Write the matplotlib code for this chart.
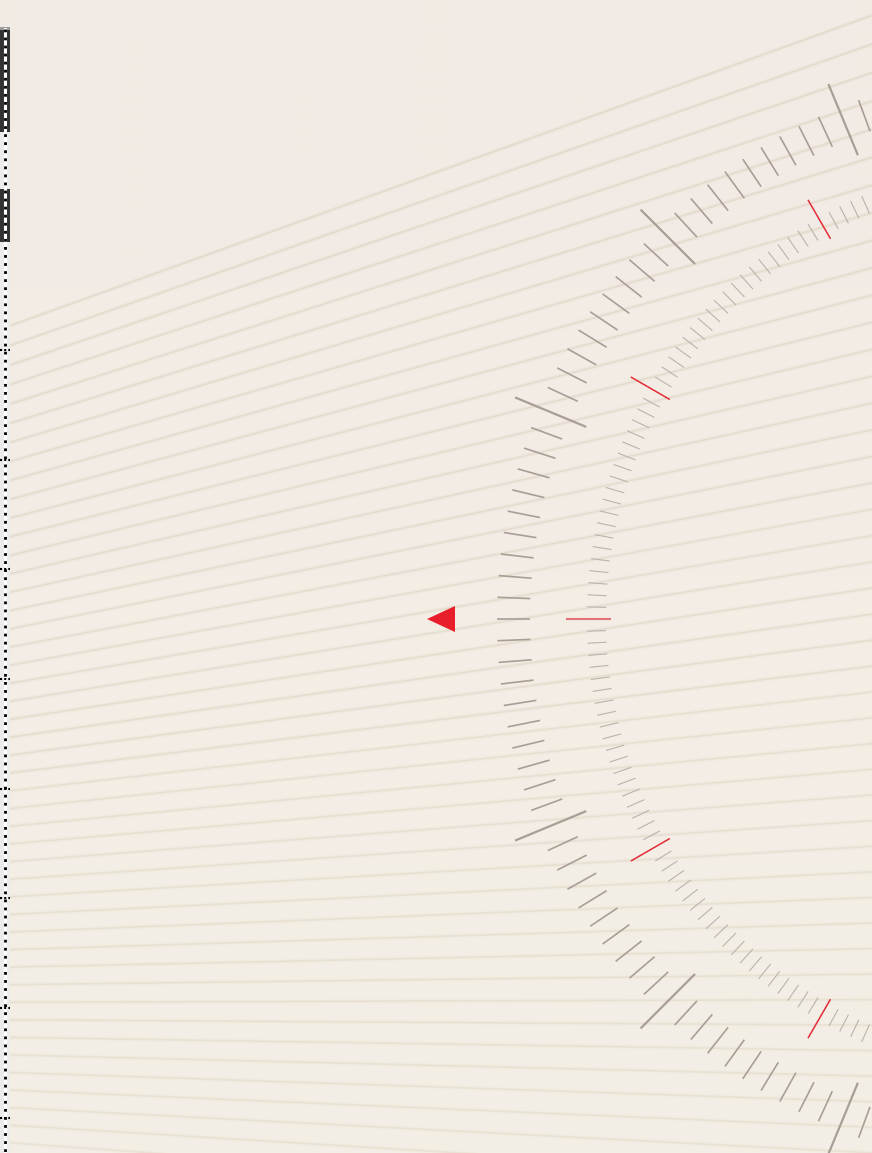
import numpy as np
from matplotlib import pyplot as plt
from matplotlib.collections import LineCollection
from matplotlib.patches import Polygon, Rectangle

W, H = 872, 1153

# dial centre (pixels, y down) and tick layout
center = (1050, 619)
outer_step = 2.25                      # degrees between outer ticks
outer_major = [-67.5, -45.0, -22.5, 22.5, 45.0, 67.5]
outer_minor_r = (520, 553)
outer_major_r = (502, 579)
inner_step = 1.5                       # degrees between inner ticks
inner_red = [-60, -30, 30, 60]
inner_zero_red = [0]
inner_minor_r = (444, 463)
inner_red_r = (439, 484)

# background fan of faint lines
fan_focus = (-1885, 1008)
fan_angles = np.linspace(-19.8, 4.6, 47)

# left strip marks
strip_dark = [(28, 132), (187, 242)]
strip_marks = [350, 460, 569, 679, 789, 898, 1008, 1118]

bg = "#f3eee6"
tick_col = "#a89e95"
inner_col = "#bbb3ab"
red = "#e32b36"

fig = plt.figure(figsize=(W / 100, H / 100), dpi=100)
fig.patch.set_facecolor(bg)
ax = fig.add_axes([0, 0, 1, 1])
ax.set_xlim(0, W)
ax.set_ylim(H, 0)
ax.axis("off")
ax.set_facecolor(bg)

# soft colour shift: pinkish top, warmer bottom
grad = np.linspace(0, 1, 1153)[:, None]
c_top = np.array([242, 235, 229]) / 255
c_bot = np.array([244, 239, 229]) / 255
img = c_top[None, None, :] * (1 - grad[..., None]) + c_bot[None, None, :] * grad[..., None]
ax.imshow(np.repeat(img, 2, axis=1), extent=[0, W, H, 0], aspect="auto",
          interpolation="bilinear", zorder=0)

# fan lines
fx, fy = fan_focus
segs = []
for a in fan_angles:
    t = np.tan(np.radians(a))
    segs.append([(fx, fy), (W + 50, fy + t * (W + 50 - fx))])
alphas = np.linspace(0.55, 0.35, len(segs))
soft = [(0.90, 0.86, 0.79, al * 0.5) for al in alphas]
cols = [(0.86, 0.82, 0.75, al) for al in alphas]
ax.add_collection(LineCollection(segs, colors=soft, linewidths=3.0, zorder=1))
ax.add_collection(LineCollection(segs, colors=cols, linewidths=1.1, zorder=1))


def ticks(angles, r0, r1):
    cx, cy = center
    out = []
    for a in angles:
        th = np.radians(a)
        out.append([(cx - r0 * np.cos(th), cy - r0 * np.sin(th)),
                    (cx - r1 * np.cos(th), cy - r1 * np.sin(th))])
    return out


# outer scale
all_outer = np.arange(-180, 180, outer_step)
minor = [a for a in all_outer if not any(abs(a - m) < 1e-6 for m in outer_major)]
ax.add_collection(LineCollection(ticks(minor, *outer_minor_r), colors=tick_col, linewidths=1.2, zorder=3))
ax.add_collection(LineCollection(ticks(outer_major, *outer_major_r), colors=tick_col, linewidths=1.6, zorder=3))

# inner scale
all_inner = np.arange(-180, 180, inner_step)
reds = inner_red + inner_zero_red
inner_minor = [a for a in all_inner if not any(abs(a - m) < 1e-6 for m in reds)]
ax.add_collection(LineCollection(ticks(inner_minor, *inner_minor_r), colors=inner_col, linewidths=0.8, zorder=3))
ax.add_collection(LineCollection(ticks(inner_red, *inner_red_r), colors=red, linewidths=1.1, zorder=3))
ax.add_collection(LineCollection(ticks(inner_zero_red, *inner_red_r), colors="#e27378", linewidths=1.5, zorder=3))

# pointer
ax.add_patch(Polygon([(427, 619), (455, 606), (455, 632)], closed=True, color="#e81e2b", lw=0, zorder=4))

# left strip
ax.add_patch(Rectangle((0, 27), 10, H, color="#ececec", lw=0, zorder=5))
ax.add_patch(Rectangle((0, 27), 10, 3, color="#9a9a9a", lw=0, zorder=6))
for y0, y1 in strip_dark:
    ax.add_patch(Rectangle((0, y0 + 2), 10, y1 - y0 - 2, color="#333333", lw=0, zorder=6))
ax.plot([5, 5], [29, H], color="white", lw=2.2, zorder=7)
ax.plot([5, 5], [29, H], color="black", lw=2.0, ls=(0, (1.0, 1.9)), zorder=7)
for y in strip_marks:
    ax.plot([0, 10], [y, y], color="black", lw=1.5, ls=(0, (1, 1)), zorder=8)

fig.savefig("out.png", dpi=100, facecolor=bg)
